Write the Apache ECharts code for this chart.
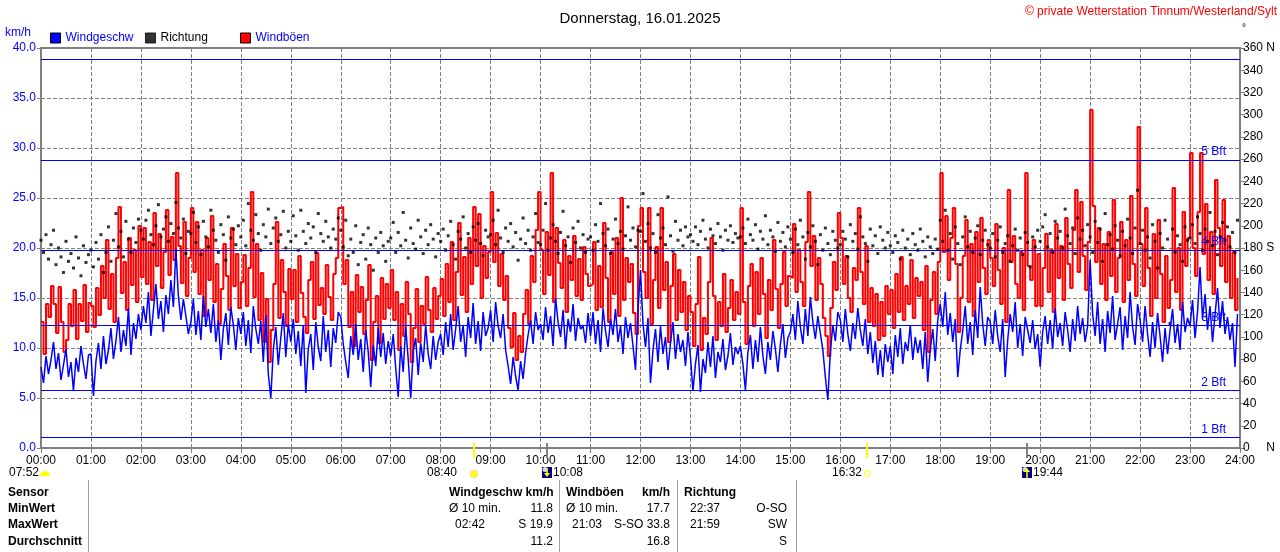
<!DOCTYPE html>
<html>
<head>
<meta charset="utf-8">
<title>Wind 16.01.2025</title>
<script src="https://cdn.jsdelivr.net/npm/echarts@6/dist/echarts.min.js"></script>
<style>
  html, body { margin: 0; padding: 0; background: #fff; }
  #chart { width: 1280px; height: 552px; }
</style>
</head>
<body>
<div id="chart"></div>
<script>
// 3-Minuten-Werte, je Zeile eine Stunde (00:00 ... 23:57)
var STEP_MIN = 3;

var windSpeed = [
  8.1, 6.5, 9.2, 7.4, 8.8, 10.6, 7.9, 9.5, 6.8, 8.3, 9.9, 7.1, 8.6, 5.7, 9.0, 7.6, 10.2, 8.4, 6.9, 9.3,
  9.4, 5.2, 8.7, 10.5, 7.9, 11.2, 8.4, 9.8, 12.0, 8.9, 10.7, 13.1, 9.6, 11.8, 10.2, 14.0, 9.3, 12.5, 10.9, 13.4,
  11.8, 14.2, 12.5, 15.6, 11.2, 13.8, 16.4, 12.9, 14.7, 11.6, 15.3, 13.4, 16.8, 14.1, 19.9, 15.2, 12.8, 14.9, 13.2, 11.4,
  12.6, 14.9, 11.3, 13.7, 10.8, 15.2, 12.1, 13.9, 11.5, 14.4, 10.6, 12.8, 8.8, 11.9, 13.5, 10.3, 14.1, 12.3, 9.8, 13.0,
  11.4, 13.6, 10.2, 12.8, 9.5, 14.2, 11.9, 10.4, 12.7, 8.6, 13.3, 7.4, 5.0, 9.8, 12.1, 8.3, 11.0, 13.5, 9.1, 12.4,
  10.6, 12.9, 9.4, 11.7, 8.2, 12.3, 5.5, 9.9, 11.4, 7.8, 12.6, 10.1, 8.7, 13.2, 9.6, 11.8, 8.1, 12.0, 10.5, 13.6,
  13.1, 10.4, 8.6, 7.0, 11.2, 9.3, 12.4, 8.8, 10.9, 7.6, 11.8, 9.6, 6.1, 10.3, 8.2, 12.0, 9.1, 11.5, 8.4, 10.7,
  9.2, 11.4, 8.0, 5.1, 10.2, 7.6, 12.1, 8.9, 5.0, 9.7, 11.0, 7.3, 10.5, 8.6, 12.3, 9.4, 7.9, 11.2, 8.8, 10.6,
  11.4, 9.3, 12.6, 10.1, 13.4, 9.8, 11.9, 14.2, 10.6, 12.3, 9.1, 13.1, 11.0, 14.5, 10.4, 12.7, 9.7, 13.6, 11.2, 12.0,
  13.8, 10.6, 14.6, 12.2, 11.0, 13.4, 9.8, 8.2, 6.4, 9.1, 7.2, 5.8, 8.7, 6.9, 9.5, 11.3, 12.8, 10.4, 13.6, 11.8,
  12.4, 10.8, 14.1, 11.5, 13.2, 10.2, 15.0, 12.6, 11.1, 13.8, 9.9, 12.9, 11.6, 14.4, 10.7, 13.0, 11.9, 12.2, 10.5, 13.5,
  11.2, 13.6, 10.4, 12.8, 9.6, 14.0, 11.7, 10.1, 12.9, 11.3, 13.9, 10.6, 12.2, 9.4, 13.1, 11.0, 12.5, 10.2, 7.8, 13.8,
  17.8, 12.4, 10.1, 13.0, 6.5, 9.8, 11.9, 8.6, 12.2, 9.4, 11.1, 7.8, 10.5, 12.6, 8.9, 11.4, 9.6, 10.8, 8.2, 11.6,
  9.1, 5.7, 8.4, 10.3, 5.6, 8.9, 7.5, 10.6, 8.1, 11.2, 7.0, 9.6, 8.6, 10.9, 7.8, 9.2, 11.5, 8.3, 10.1, 9.4,
  10.2, 8.4, 5.8, 9.6, 11.3, 7.9, 10.8, 8.6, 12.1, 9.2, 7.4, 10.6, 8.8, 11.7, 9.9, 7.6, 10.4, 12.4, 9.0, 11.0,
  11.6, 13.4, 10.8, 14.7, 12.1, 10.4, 13.9, 11.2, 15.1, 12.6, 10.9, 13.2, 11.5, 9.8, 7.1, 4.8, 9.6, 12.3, 10.7, 13.6,
  12.8, 10.6, 13.9, 11.4, 9.7, 12.5, 10.9, 14.0, 11.8, 10.2, 12.9, 9.4, 11.6, 8.5, 10.7, 7.3, 9.8, 7.1, 10.4, 8.6,
  10.2, 7.4, 11.3, 9.1, 12.0, 8.4, 10.6, 9.7, 12.3, 8.8, 11.1, 9.5, 10.8, 7.9, 11.6, 6.6, 9.9, 11.9, 8.7, 12.8,
  14.4, 12.1, 15.6, 11.3, 13.5, 10.6, 12.9, 7.1, 9.8, 11.7, 14.2, 10.4, 12.6, 9.3, 13.8, 11.0, 16.1, 12.4, 10.2, 13.1,
  12.6, 10.4, 13.8, 11.2, 9.6, 12.9, 7.1, 10.8, 13.4, 11.6, 14.6, 10.0, 12.4, 9.2, 13.1, 11.8, 10.5, 12.8, 9.9, 11.4,
  8.1, 11.6, 13.2, 10.4, 12.8, 9.9, 14.0, 11.1, 12.5, 10.2, 13.6, 11.8, 9.6, 12.9, 10.7, 14.2, 11.4, 13.0, 10.6, 12.2,
  18.8, 13.4, 11.2, 14.6, 10.4, 12.9, 9.6, 13.7, 11.5, 15.2, 10.8, 12.4, 14.1, 9.8, 13.2, 11.0, 15.6, 12.1, 10.3, 14.4,
  12.8, 10.6, 14.2, 11.4, 9.1, 12.6, 10.0, 13.5, 11.2, 8.6, 12.0, 9.4, 11.8, 13.9, 10.5, 12.4, 9.8, 14.6, 11.6, 13.0,
  12.2, 14.8, 11.0, 13.6, 18.1, 12.9, 15.4, 11.8, 14.2, 10.6, 13.3, 16.0, 12.0, 14.7, 11.4, 13.1, 10.8, 12.5, 8.1, 13.4
];

var windGust = [
  12.6, 9.4, 14.4, 13.1, 16.2, 14.4, 11.5, 16.1, 12.6, 9.6, 10.8, 14.4, 12.2, 15.8, 10.9, 14.4, 12.7, 16.3, 11.6, 14.5,
  14.2, 12.1, 16.0, 13.3, 18.2, 15.0, 20.8, 13.9, 17.4, 12.6, 19.0, 24.1, 15.5, 18.6, 13.8, 21.0, 16.3, 19.8, 14.6, 22.2,
  17.1, 22.0, 16.4, 20.6, 14.8, 23.5, 18.2, 21.4, 16.0, 19.6, 23.8, 17.3, 21.1, 18.8, 27.5, 20.2, 16.5, 22.6, 15.2, 19.0,
  24.0, 17.6, 22.6, 15.4, 19.8, 13.2, 21.0, 16.8, 23.2, 14.6, 18.4, 12.4, 15.9, 20.4, 17.2, 13.8, 22.0, 16.2, 19.4, 14.0,
  16.6, 19.3, 14.2, 18.0, 25.6, 15.1, 20.4, 12.8, 17.5, 10.6, 14.9, 8.6, 11.8, 16.4, 22.6, 13.0, 18.8, 15.6, 12.2, 17.9,
  14.9, 17.8, 12.6, 19.2, 15.5, 13.1, 11.5, 16.8, 18.6, 12.9, 19.5, 14.3, 16.0, 13.4, 18.3, 15.1, 12.8, 17.4, 19.0, 24.0,
  24.1, 16.4, 18.8, 12.1, 15.6, 10.2, 17.3, 13.6, 16.1, 11.4, 14.8, 18.3, 8.8, 12.6, 15.2, 10.5, 17.0, 12.9, 16.4, 14.0,
  17.8, 12.8, 15.6, 9.8, 14.4, 11.2, 16.6, 13.4, 8.6, 12.0, 15.9, 10.6, 14.2, 12.4, 17.1, 13.8, 11.6, 16.0, 12.9, 15.2,
  16.9, 13.2, 18.4, 14.6, 20.6, 12.8, 17.6, 22.5, 15.3, 19.1, 13.6, 21.0, 16.4, 24.1, 18.2, 23.4, 15.0, 20.2, 17.0, 19.6,
  25.6, 18.6, 21.5, 16.2, 19.4, 14.8, 17.2, 12.0, 10.1, 13.5, 8.8, 11.2, 9.6, 13.4, 15.8, 12.4, 19.2, 16.6, 21.8, 25.6,
  19.8, 15.4, 21.6, 17.3, 27.5, 14.6, 22.0, 18.5, 16.0, 20.8, 13.6, 19.2, 16.8, 21.2, 15.2, 18.9, 14.8, 20.1, 17.4, 16.2,
  16.4, 20.6, 13.8, 18.2, 14.1, 22.5, 17.0, 12.6, 19.6, 15.4, 21.0, 13.2, 25.0, 14.8, 19.0, 16.6, 18.4, 13.5, 11.4, 22.2,
  24.0, 17.6, 15.0, 24.0, 12.4, 16.8, 20.1, 14.0, 24.0, 15.8, 18.6, 10.6, 16.2, 19.4, 12.8, 17.8, 13.6, 16.6, 11.8, 15.2,
  13.6, 10.2, 14.4, 19.1, 9.8, 13.0, 11.4, 16.6, 21.0, 15.2, 10.8, 14.6, 12.2, 17.4, 11.6, 14.0, 16.8, 12.8, 15.6, 13.4,
  24.0, 14.6, 10.4, 16.2, 18.4, 12.2, 17.6, 13.4, 19.0, 15.4, 11.0, 16.8, 13.8, 20.8, 15.9, 12.0, 16.4, 19.6, 14.2, 17.2,
  17.0, 22.4, 15.6, 19.8, 16.6, 14.2, 20.6, 25.6, 18.2, 21.2, 14.8, 19.0, 16.4, 13.0, 11.2, 9.2, 14.0, 18.6, 15.8, 23.5,
  21.0, 16.4, 19.2, 15.0, 13.6, 18.0, 16.8, 24.0, 17.6, 14.4, 20.2, 12.6, 16.0, 12.2, 15.4, 10.8, 14.6, 11.2, 16.2, 13.4,
  15.8, 12.0, 17.4, 13.6, 19.1, 12.8, 16.2, 14.4, 18.8, 13.0, 17.0, 15.2, 16.6, 11.8, 18.2, 9.6, 14.8, 17.6, 13.4, 18.6,
  27.5, 19.6, 23.2, 16.8, 21.0, 24.0, 18.4, 11.6, 15.0, 19.2, 22.8, 14.6, 20.4, 13.2, 21.6, 16.6, 23.0, 18.0, 15.4, 20.8,
  19.0, 16.2, 22.4, 17.8, 14.4, 20.0, 12.6, 25.8, 18.6, 21.2, 16.4, 15.0, 19.6, 13.8, 27.5, 18.2, 16.8, 20.8, 14.2, 19.4,
  14.2, 18.0, 21.4, 15.6, 19.8, 13.6, 22.4, 17.0, 20.2, 14.8, 23.0, 18.4, 16.0, 21.8, 25.8, 17.6, 24.6, 19.2, 15.8, 20.6,
  33.8, 24.2, 18.6, 22.0, 16.4, 20.4, 14.8, 21.6, 17.2, 24.8, 15.6, 19.0, 22.6, 14.6, 20.8, 16.8, 25.2, 18.4, 15.2, 32.1,
  20.4, 16.2, 24.0, 18.0, 13.2, 21.4, 15.0, 22.8, 17.4, 12.6, 19.2, 14.0, 16.8, 26.0, 15.6, 20.0, 13.8, 23.6, 18.2, 21.0,
  29.5, 20.0, 17.2, 23.6, 29.5, 19.4, 24.4, 16.8, 21.6, 15.4, 26.8, 22.0, 18.2, 24.8, 16.6, 21.2, 15.0, 19.6, 13.8, 17.0
];

var windDir = [
  187, 176, 192, 170, 183, 196, 165, 180, 172, 158, 186, 168, 175, 162, 190, 171, 155, 182, 167, 174,
  178, 163, 185, 170, 192, 158, 176, 199, 168, 187, 211, 181, 195, 172, 204, 188, 176, 198, 185, 206,
  196, 188, 205, 214, 192, 183, 200, 219, 190, 197, 208, 186, 202, 193, 221, 198, 189, 206, 175, 195,
  193, 212, 185, 199, 174, 204, 190, 181, 214, 196, 187, 176, 201, 192, 169, 208, 189, 197, 183, 200,
  190, 205, 182, 220, 196, 187, 210, 193, 178, 201, 190, 215, 184, 198, 207, 186, 192, 213, 180, 195,
  186, 209, 191, 178, 214, 195, 184, 202, 189, 199, 176, 211, 193, 186, 204, 190, 180, 197, 188, 207,
  196, 181, 205, 173, 188, 176, 200, 165, 185, 192, 170, 198, 183, 160, 189, 176, 194, 182, 168, 186,
  189, 203, 176, 194, 182, 212, 187, 171, 198, 184, 179, 205, 190, 175, 196, 183, 201, 188, 172, 193,
  186, 197, 178, 191, 204, 183, 170, 195, 188, 208, 180, 193, 176, 199, 187, 202, 184, 173, 196, 190,
  192, 205, 183, 214, 189, 176, 198, 186, 202, 181, 194, 169, 188, 207, 184, 196, 178, 190, 211, 185,
  183, 196, 220, 178, 189, 201, 186, 175, 194, 213, 182, 190, 167, 198, 185, 204, 180, 192, 176, 188,
  190, 178, 201, 186, 220, 193, 182, 197, 175, 188, 206, 184, 195, 179, 191, 217, 187, 198, 181, 196,
  195, 229, 186, 202, 180, 193, 176, 210, 189, 198, 183, 226, 191, 177, 204, 187, 196, 182, 199, 190,
  192, 186, 199, 183, 195, 205, 188, 180, 197, 191, 184, 202, 190, 178, 196, 187, 200, 185, 193, 189,
  190, 198, 184, 206, 192, 187, 201, 179, 195, 188, 209, 183, 196, 190, 177, 203, 186, 194, 181, 199,
  188, 176, 197, 183, 205, 190, 170, 194, 181, 200, 186, 165, 192, 178, 198, 184, 174, 195, 187, 180,
  183, 195, 188, 172, 201, 186, 193, 179, 208, 190, 184, 168, 197, 182, 191, 175, 199, 187, 180, 194,
  182, 176, 191, 185, 170, 196, 180, 188, 174, 193, 183, 178, 197, 186, 172, 190, 181, 175, 188, 179,
  205, 186, 214, 178, 193, 170, 199, 184, 165, 190, 208, 181, 195, 176, 189, 200, 174, 187, 196, 183,
  180, 193, 172, 187, 199, 176, 184, 191, 168, 182, 197, 178, 189, 174, 194, 185, 163, 190, 181, 196,
  186, 199, 210, 181, 193, 176, 204, 189, 195, 180, 215, 191, 184, 198, 175, 207, 188, 196, 182, 201,
  190, 176, 204, 185, 197, 168, 211, 183, 192, 179, 200, 187, 173, 195, 182, 206, 189, 175, 198, 232,
  184, 196, 178, 190, 171, 201, 186, 162, 193, 180, 205, 188, 112, 197, 176, 191, 183, 168, 199, 187,
  189, 201, 184, 208, 193, 178, 197, 186, 212, 182, 195, 174, 190, 203, 187, 199, 181, 194, 176, 205
];

// Beaufort-Grenzen in km/h
var bftLimits = [1.08, 5.76, 12.24, 19.8, 28.8, 38.9];
var bftNames = ['1 Bft', '2 Bft', '3 Bft', '4 Bft', '5 Bft'];

// Sonne / Mond
var sunMoon = [
  { time: '07:52', min: 472, kind: 'sunriseLeft' },
  { time: '08:40', min: 520, kind: 'sun' },
  { time: '10:08', min: 608, kind: 'moonset' },
  { time: '16:32', min: 992, kind: 'sunset' },
  { time: '19:44', min: 1184, kind: 'moonrise' }
];

var tableRows = ['Sensor', 'MinWert', 'MaxWert', 'Durchschnitt'];

var FONT = '"Liberation Sans", Arial, sans-serif';
var BLUE = '#0000ff';
var GRAY = '#808080';

function toPairs(arr) {
  return arr.map(function (v, i) { return [i * STEP_MIN, v]; });
}
function pad(n) { return (n < 10 ? '0' : '') + n; }

var chart = echarts.init(document.getElementById('chart'));

var X0 = 41, X1 = 1240;
function minToX(m) { return X0 + (X1 - X0) * m / 1440; }

var graphics = [];
function txt(x, y, s, opt) {
  opt = opt || {};
  graphics.push({
    type: 'text', x: x, y: y, silent: true,
    style: {
      text: s, fill: opt.color || '#000', font: (opt.bold ? 'bold ' : '') + (opt.size || 12) + 'px ' + FONT,
      textAlign: opt.align || 'left', textVerticalAlign: 'middle'
    }
  });
}

// Kopf
txt(1277, 12, '\u00a9 private Wetterstation Tinnum/Westerland/Sylt', { color: '#ff0000', align: 'right' });
txt(5, 33, 'km/h', { color: BLUE });
txt(1242, 28, '\u00b0', { size: 10 });

// Sonne/Mond-Markierungen
sunMoon.forEach(function (s) {
  var x = Math.round(minToX(s.min));
  if (s.kind !== 'sunriseLeft') {
    graphics.push({
      type: 'line', silent: true, z: 10,
      shape: { x1: x, y1: 443, x2: x, y2: 458 },
      style: { stroke: (s.kind === 'sun' || s.kind === 'sunset') ? '#ffff00' : GRAY, lineWidth: 2 }
    });
  }
  if (s.kind === 'sunriseLeft') {
    txt(9, 473, s.time);
    graphics.push({ type: 'sector', silent: true,
      shape: { cx: 45, cy: 476, r: 5, startAngle: Math.PI, endAngle: 2 * Math.PI },
      style: { fill: '#ffff00' } });
  } else if (s.kind === 'sun') {
    txt(x - 17, 473, s.time, { align: 'right' });
    graphics.push({ type: 'circle', silent: true, shape: { cx: x, cy: 474, r: 3.5 },
      style: { fill: '#ffff00', stroke: '#ffe680', lineWidth: 2 } });
  } else if (s.kind === 'sunset') {
    txt(x - 5, 473, s.time, { align: 'right' });
    graphics.push({ type: 'rect', silent: true, shape: { x: x - 2, y: 471, width: 5, height: 5 },
      style: { fill: '#fff', stroke: '#ffff00', lineWidth: 1 } });
  } else {
    graphics.push({ type: 'rect', silent: true, shape: { x: x - 5, y: 467, width: 10, height: 11 },
      style: { fill: '#000080' } });
    graphics.push({ type: 'circle', silent: true, shape: { cx: x - 2, cy: 469.5, r: 2.5 },
      style: { fill: '#c8d8f0' } });
    var up = s.kind === 'moonrise';
    graphics.push({ type: 'polygon', silent: true,
      shape: { points: up ? [[x - 3, 472], [x + 3, 472], [x, 468]] : [[x - 3, 473], [x + 3, 473], [x, 477]] },
      style: { fill: '#ffff00' } });
    graphics.push({ type: 'line', silent: true,
      shape: { x1: x, y1: up ? 472 : 468, x2: x, y2: up ? 478 : 473 },
      style: { stroke: '#ffff00', lineWidth: 1.5 } });
    txt(x + 6, 473, s.time);
  }
});

// Tabelle
[88, 559, 677, 796].forEach(function (x) {
  graphics.push({ type: 'line', silent: true, shape: { x1: x + 0.5, y1: 480, x2: x + 0.5, y2: 552 },
    style: { stroke: '#a0a0a0', lineWidth: 1 } });
});
var rowY = [493, 509, 525, 542];
tableRows.forEach(function (r, i) { txt(8, rowY[i], r, { bold: true }); });

txt(449, rowY[0], 'Windgeschw km/h', { bold: true });
txt(449, rowY[1], '\u00d8 10 min.');
txt(553, rowY[1], '11.8', { align: 'right' });
txt(455, rowY[2], '02:42');
txt(553, rowY[2], 'S 19.9', { align: 'right' });
txt(553, rowY[3], '11.2', { align: 'right' });

txt(566, rowY[0], 'Windb\u00f6en', { bold: true });
txt(670, rowY[0], 'km/h', { bold: true, align: 'right' });
txt(566, rowY[1], '\u00d8 10 min.');
txt(670, rowY[1], '17.7', { align: 'right' });
txt(572, rowY[2], '21:03');
txt(670, rowY[2], 'S-SO 33.8', { align: 'right' });
txt(670, rowY[3], '16.8', { align: 'right' });

txt(684, rowY[0], 'Richtung', { bold: true });
txt(690, rowY[1], '22:37');
txt(787, rowY[1], 'O-SO', { align: 'right' });
txt(690, rowY[2], '21:59');
txt(787, rowY[2], 'SW', { align: 'right' });
txt(787, rowY[3], 'S', { align: 'right' });

function legendAt(left, name, color) {
  return {
    left: left, top: 32, padding: 0, itemWidth: 10, itemHeight: 10, icon: 'rect',
    selectedMode: false,
    itemStyle: { borderColor: '#000', borderWidth: 1 },
    textStyle: { fontFamily: FONT, fontSize: 12, color: color, padding: [1, 0, 0, 0] },
    data: [name]
  };
}

var option = {
  animation: false,
  backgroundColor: '#fff',
  textStyle: { fontFamily: FONT },
  title: {
    text: 'Donnerstag, 16.01.2025', left: 'center', top: 6,
    textStyle: { fontFamily: FONT, fontSize: 15, fontWeight: 'normal', color: '#000' }
  },
  legend: [
    legendAt(50, 'Windgeschw', BLUE),
    legendAt(145, 'Richtung', '#000'),
    legendAt(240, 'Windb\u00f6en', BLUE)
  ],
  grid: {
    left: X0, right: 1280 - X1, top: 48, bottom: 104,
    show: true, borderColor: GRAY, borderWidth: 2, backgroundColor: '#fff'
  },
  xAxis: {
    type: 'value', min: 0, max: 1440, interval: 60,
    axisLine: { lineStyle: { color: GRAY, width: 2 } },
    axisTick: { length: 5, lineStyle: { color: GRAY } },
    axisLabel: {
      color: '#000', fontSize: 12, margin: 7,
      formatter: function (v) { return pad(v / 60) + ':00'; }
    },
    splitLine: { show: true, lineStyle: { color: GRAY, type: [4, 2], width: 1 } }
  },
  yAxis: [
    {
      type: 'value', min: 0, max: 40, interval: 5,
      axisLine: { show: true, lineStyle: { color: GRAY, width: 2 } },
      axisTick: { show: true, length: 4, lineStyle: { color: GRAY } },
      axisLabel: {
        color: BLUE, fontSize: 12, margin: 5,
        formatter: function (v) { return v.toFixed(1); }
      },
      splitLine: { show: true, lineStyle: { color: GRAY, type: [4, 2], width: 1 } }
    },
    {
      type: 'value', min: 0, max: 360, interval: 20, position: 'right',
      axisLine: { show: true, lineStyle: { color: GRAY, width: 2 } },
      axisTick: { show: true, length: 5, lineStyle: { color: GRAY } },
      axisLabel: {
        color: '#000', fontSize: 12, margin: 3,
        formatter: function (v) {
          if (v === 360) return '360 N';
          if (v === 180) return '180 S';
          if (v === 0) return '0     N';
          return String(v);
        }
      },
      splitLine: { show: false }
    }
  ],
  series: [
    {
      name: 'Windb\u00f6en', type: 'line', step: 'end', yAxisIndex: 0, z: 2,
      showSymbol: false, symbol: 'none',
      color: '#ff0000', lineStyle: { color: '#ff0000', width: 2 },
      data: toPairs(windGust),
      markLine: {
        silent: true, symbol: 'none',
        lineStyle: { color: 'rgba(0,0,0,0)', width: 0 },
        label: {
          show: true, position: 'insideEndTop', color: BLUE, fontSize: 12, fontFamily: FONT,
          distance: [14, 2], opacity: 1,
          formatter: function (p) { return bftNames[p.dataIndex]; }
        },
        data: bftLimits.slice(0, 5).map(function (v) { return { yAxis: v }; })
      }
    },
    {
      name: 'Richtung', type: 'scatter', yAxisIndex: 1, z: 3,
      symbol: 'rect', symbolSize: 3, color: '#000',
      itemStyle: { color: '#000' },
      data: toPairs(windDir)
    },
    {
      name: 'Windgeschw', type: 'line', yAxisIndex: 0, z: 4,
      showSymbol: false, symbol: 'none',
      color: BLUE, lineStyle: { color: BLUE, width: 1.5 },
      data: toPairs(windSpeed),
      markLine: {
        silent: true, symbol: 'none', animation: false,
        lineStyle: { color: BLUE, type: 'solid', width: 1 },
        label: { show: false },
        data: bftLimits.map(function (v) { return { yAxis: v }; })
      }
    }
  ],
  graphic: graphics
};

chart.setOption(option);
</script>
</body>
</html>
